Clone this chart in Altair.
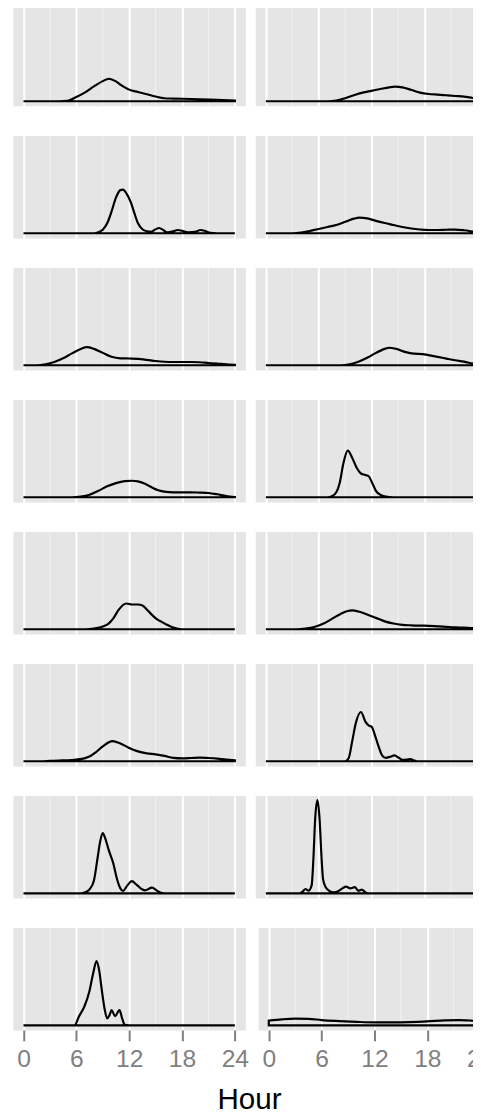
import altair as alt
import pandas as pd

# Hour-of-day density curves, 16 panels (row-major: left, right)
# density values in percent per hour
P1_HOUR = [0, 4, 5, 6, 7, 8, 9, 9.7, 10.5, 11, 11.5, 12, 13, 14, 15, 16, 17, 18, 20, 22, 24]
P1_DENS = [0, 0, 0.4, 4.3, 9, 15, 20.3, 22.7, 20, 16.7, 14, 11.7, 9.3, 7, 4.7, 3, 2.7, 2.5, 2, 1.3, 0.7]

P2_HOUR = [0, 7, 8, 9, 10, 11, 12, 13, 14, 14.7, 15.5, 16.5, 17.5, 18.5, 19.5, 20.5, 21.5, 22.5, 23.5, 24]
P2_DENS = [0, 0, 0.7, 3, 6, 8.7, 10.5, 12.3, 14, 14.7, 14, 11.5, 8.7, 7.3, 6.7, 6, 5.3, 4.7, 3.3, 2.7]

P3_HOUR = [0, 8, 8.5, 9, 9.5, 10, 10.5, 11, 11.3, 11.7, 12.2, 12.6, 13, 13.5, 14, 14.5, 15, 15.4, 15.9,
           16.3, 17, 17.5, 18, 18.7, 19.5, 20.1, 20.7, 21.2, 22, 24]
P3_DENS = [0, 0, 1, 3.5, 10, 22, 36, 43.5, 44, 40, 31, 20, 10, 4, 2, 1.5, 4, 5.3, 3,
           1, 2, 3.3, 2.5, 1, 1.5, 3.3, 2, 0.5, 0, 0]

P4_HOUR = [0, 3, 4, 5, 6, 7, 8, 9, 10, 10.6, 11.5, 12.5, 13.5, 14.5, 15.5, 16.5, 17.5, 18.5, 19.5,
           20.5, 21.5, 22.5, 23.5, 24]
P4_DENS = [0, 0, 0.7, 2.3, 4.3, 6.3, 8.3, 11.5, 14.7, 15.7, 15, 12.5, 10.3, 8.3, 6.3, 4.8, 3.8, 3.3, 3.3,
           3.5, 3.7, 3, 1.7, 1]

P5_HOUR = [0, 1.5, 2.5, 3.5, 4.5, 5.5, 6.5, 7.2, 8, 9, 10, 11, 12, 13, 14, 15, 16, 17, 18, 19, 20, 21, 22, 23, 24]
P5_DENS = [0, 0, 1, 3.3, 7, 12, 16.5, 18.3, 16.5, 12.5, 8.5, 7, 6.8, 6.5, 5.5, 4.3, 3.5, 3.3, 3.3, 3.3, 3,
           2.3, 1.7, 1, 0.5]

P6_HOUR = [0, 8.5, 9.5, 10.5, 11.5, 12.5, 13.5, 14, 14.8, 15.8, 16.8, 17.8, 18.6, 19.5, 20.5, 21.5, 22.5, 23.3, 24]
P6_DENS = [0, 0, 1, 3.5, 7.5, 12.5, 16.5, 17.7, 16.5, 13.5, 11.7, 11.3, 10, 8.5, 6.7, 5, 3.7, 2, 0.5]

P7_HOUR = [0, 5.5, 6.5, 7.5, 8.5, 9.5, 10.5, 11.5, 12.3, 13, 13.8, 14.5, 15.3, 16, 17, 18, 19, 20, 21, 22, 23, 24]
P7_DENS = [0, 0, 0.7, 2.5, 6.5, 11, 14.3, 16.3, 16.7, 16, 13.7, 10.3, 7, 5.7, 5, 5, 5, 4.7, 4.3, 3, 1.3, 0.3]

P8_HOUR = [0, 7, 7.5, 8, 8.4, 8.8, 9.3, 9.8, 10.3, 10.8, 11.3, 11.7, 12.1, 12.5, 13, 13.6, 14.5, 24]
P8_DENS = [0, 0, 1, 5, 15, 34, 47, 40, 30, 24, 22.5, 21, 14, 6.5, 2.5, 0.7, 0, 0]

P9_HOUR = [0, 7, 8, 9, 9.7, 10.2, 10.8, 11.3, 11.7, 12.3, 13, 13.5, 14, 14.5, 15.1, 15.7, 16.3, 17, 17.7, 18, 24]
P9_DENS = [0, 0, 0.7, 2.7, 6, 11, 19.5, 24.5, 26, 25, 25, 24, 20, 15.3, 10.5, 7.5, 4.5, 1.7, 0.3, 0, 0]

P10_HOUR = [0, 3.5, 4.5, 5.5, 6.5, 7.5, 8.5, 9.3, 9.8, 10.5, 11.5, 12.5, 13.5, 14.5, 15.5, 16.5, 17.5,
            18.5, 19.5, 20.5, 21.5, 22.5, 23.5, 24]
P10_DENS = [0, 0, 0.7, 2.3, 5.5, 10.5, 15.5, 18.5, 19, 18, 15, 11.5, 8, 5.8, 4.5, 4, 3.7,
            3.5, 3, 2.5, 2, 1.7, 1.3, 1.2]

P11_HOUR = [0, 2, 3, 4, 5, 6, 7, 7.6, 8.2, 9, 10.1, 11, 12, 13, 14, 15, 16, 17, 18, 19, 20, 21, 22, 23, 24]
P11_DENS = [0, 0, 0.5, 0.8, 1, 1.7, 3.2, 5.3, 9, 15, 20.3, 18, 13.5, 10, 8, 7, 5.5, 3.5, 3, 3.3, 3.7,
            3.3, 2.7, 1.7, 1]

P12_HOUR = [0, 9, 9.4, 9.8, 10.2, 10.8, 11.3, 11.7, 12, 12.4, 12.8, 13.2, 13.6, 14.1, 14.6, 15.1, 15.5,
            16, 16.4, 16.9, 17.3, 24]
P12_DENS = [0, 0, 3, 20, 38, 49.7, 40, 36, 35, 26, 15, 6, 3.5, 4.5, 6, 3.5, 1.5,
            1.7, 2.3, 0.7, 0, 0]

P13_HOUR = [0, 6.5, 7, 7.5, 8, 8.4, 8.7, 9.0, 9.3, 9.7, 10.2, 10.6, 11, 11.3, 11.8, 12.3, 12.8, 13.3,
            13.8, 14.6, 15.1, 15.6, 16, 24]
P13_DENS = [0, 0, 1, 4, 13, 35, 52, 60.7, 55, 43, 30, 15, 5, 2.5, 8, 12.3, 9, 5,
            3, 5.7, 3, 0.5, 0, 0]

P14_HOUR = [0, 3.8, 4.2, 4.5, 4.85, 5.2, 5.4, 5.6, 5.86, 6.1, 6.3, 6.5, 6.8, 7.2, 7.7, 8.2, 8.7, 9.1,
            9.6, 10.1, 10.5, 10.9, 11.3, 11.6, 24]
P14_DENS = [0, 0, 2, 4.3, 2.7, 8, 35, 75, 94, 75, 40, 14, 6, 2.5, 1, 2, 5, 6.7,
            5, 6.3, 2.7, 3.7, 1, 0, 0]

P15_HOUR = [0, 5.8, 6.3, 6.9, 7.5, 7.9, 8.3, 8.6, 8.9, 9.2, 9.5, 9.8, 10.0, 10.4, 10.9, 11.2, 11.5, 12, 24]
P15_DENS = [0, 0, 9, 18.7, 35, 52, 64.7, 55, 35, 17, 7, 11, 15.3, 9.3, 15.3, 7, 0.5, 0, 0]

P16_HOUR = [0, 1.5, 3, 4.5, 6, 8, 10, 12, 14, 16, 18, 20, 21.6, 23, 24]
P16_DENS = [4.7, 6, 6.7, 6.5, 5.3, 4.3, 3.5, 3, 3, 3.3, 4, 5, 5.3, 4.7, 4]

MAJOR_TICKS = [0, 6, 12, 18, 24]
MINOR_TICKS = [3, 9, 15, 21]

PANELS = [
    (P1_HOUR, P1_DENS), (P2_HOUR, P2_DENS), (P3_HOUR, P3_DENS), (P4_HOUR, P4_DENS),
    (P5_HOUR, P5_DENS), (P6_HOUR, P6_DENS), (P7_HOUR, P7_DENS), (P8_HOUR, P8_DENS),
    (P9_HOUR, P9_DENS), (P10_HOUR, P10_DENS), (P11_HOUR, P11_DENS), (P12_HOUR, P12_DENS),
    (P13_HOUR, P13_DENS), (P14_HOUR, P14_DENS), (P15_HOUR, P15_DENS), (P16_HOUR, P16_DENS),
]

minor_df = pd.DataFrame({"hour": MINOR_TICKS})

X_SCALE = alt.Scale(domain=[-1.2, 25.2], nice=False, zero=False)
Y_SCALE = alt.Scale(domain=[-4.7, 98.7], nice=False, zero=False)

PANEL_W = 236
PANEL_H = 104


def x_axis(bottom):
    common = dict(values=MAJOR_TICKS, grid=True, gridColor="white", gridWidth=2,
                  domain=False, title=None, labelOverlap=False, labelFlush=False)
    if bottom:
        return alt.Axis(ticks=True, tickColor="#7F7F7F", tickWidth=2, tickSize=11,
                        labels=True, labelFontSize=25, labelColor="#7F7F7F",
                        labelFont="Liberation Sans", labelPadding=6, **common)
    return alt.Axis(ticks=False, labels=False, **common)


def panel(i, bottom):
    hours, dens = PANELS[i]
    df = pd.DataFrame({"hour": hours, "density": dens})
    ax = x_axis(bottom)
    minor = alt.Chart(minor_df).mark_rule(color="#F2F2F2", strokeWidth=1).encode(
        x=alt.X("hour:Q", scale=X_SCALE, axis=ax)
    )
    area = alt.Chart(df).mark_area(
        stroke="black", strokeWidth=2.2, fillOpacity=0, interpolate="monotone"
    ).encode(
        x=alt.X("hour:Q", scale=X_SCALE, axis=ax),
        y=alt.Y("density:Q", scale=Y_SCALE, axis=None),
        y2=alt.datum(0),
    )
    return alt.layer(minor, area).properties(width=PANEL_W, height=PANEL_H)


rows = []
for r in range(8):
    bottom = r == 7
    rows.append(alt.hconcat(panel(2 * r, bottom), panel(2 * r + 1, bottom), spacing=8))

chart = alt.vconcat(*rows, spacing=28).properties(
    title=alt.TitleParams("Hour", orient="bottom", anchor="middle", fontSize=30,
                          font="Liberation Sans", fontWeight="normal", color="black",
                          dx=-4, offset=14),
    padding={"left": 4, "top": -14, "right": -22, "bottom": -6},
).configure(
    font="Liberation Sans",
    view=alt.ViewConfig(fill="#E5E5E5", stroke="transparent"),
)

chart.save("out.html", embed_options={"renderer": "svg", "actions": False})
